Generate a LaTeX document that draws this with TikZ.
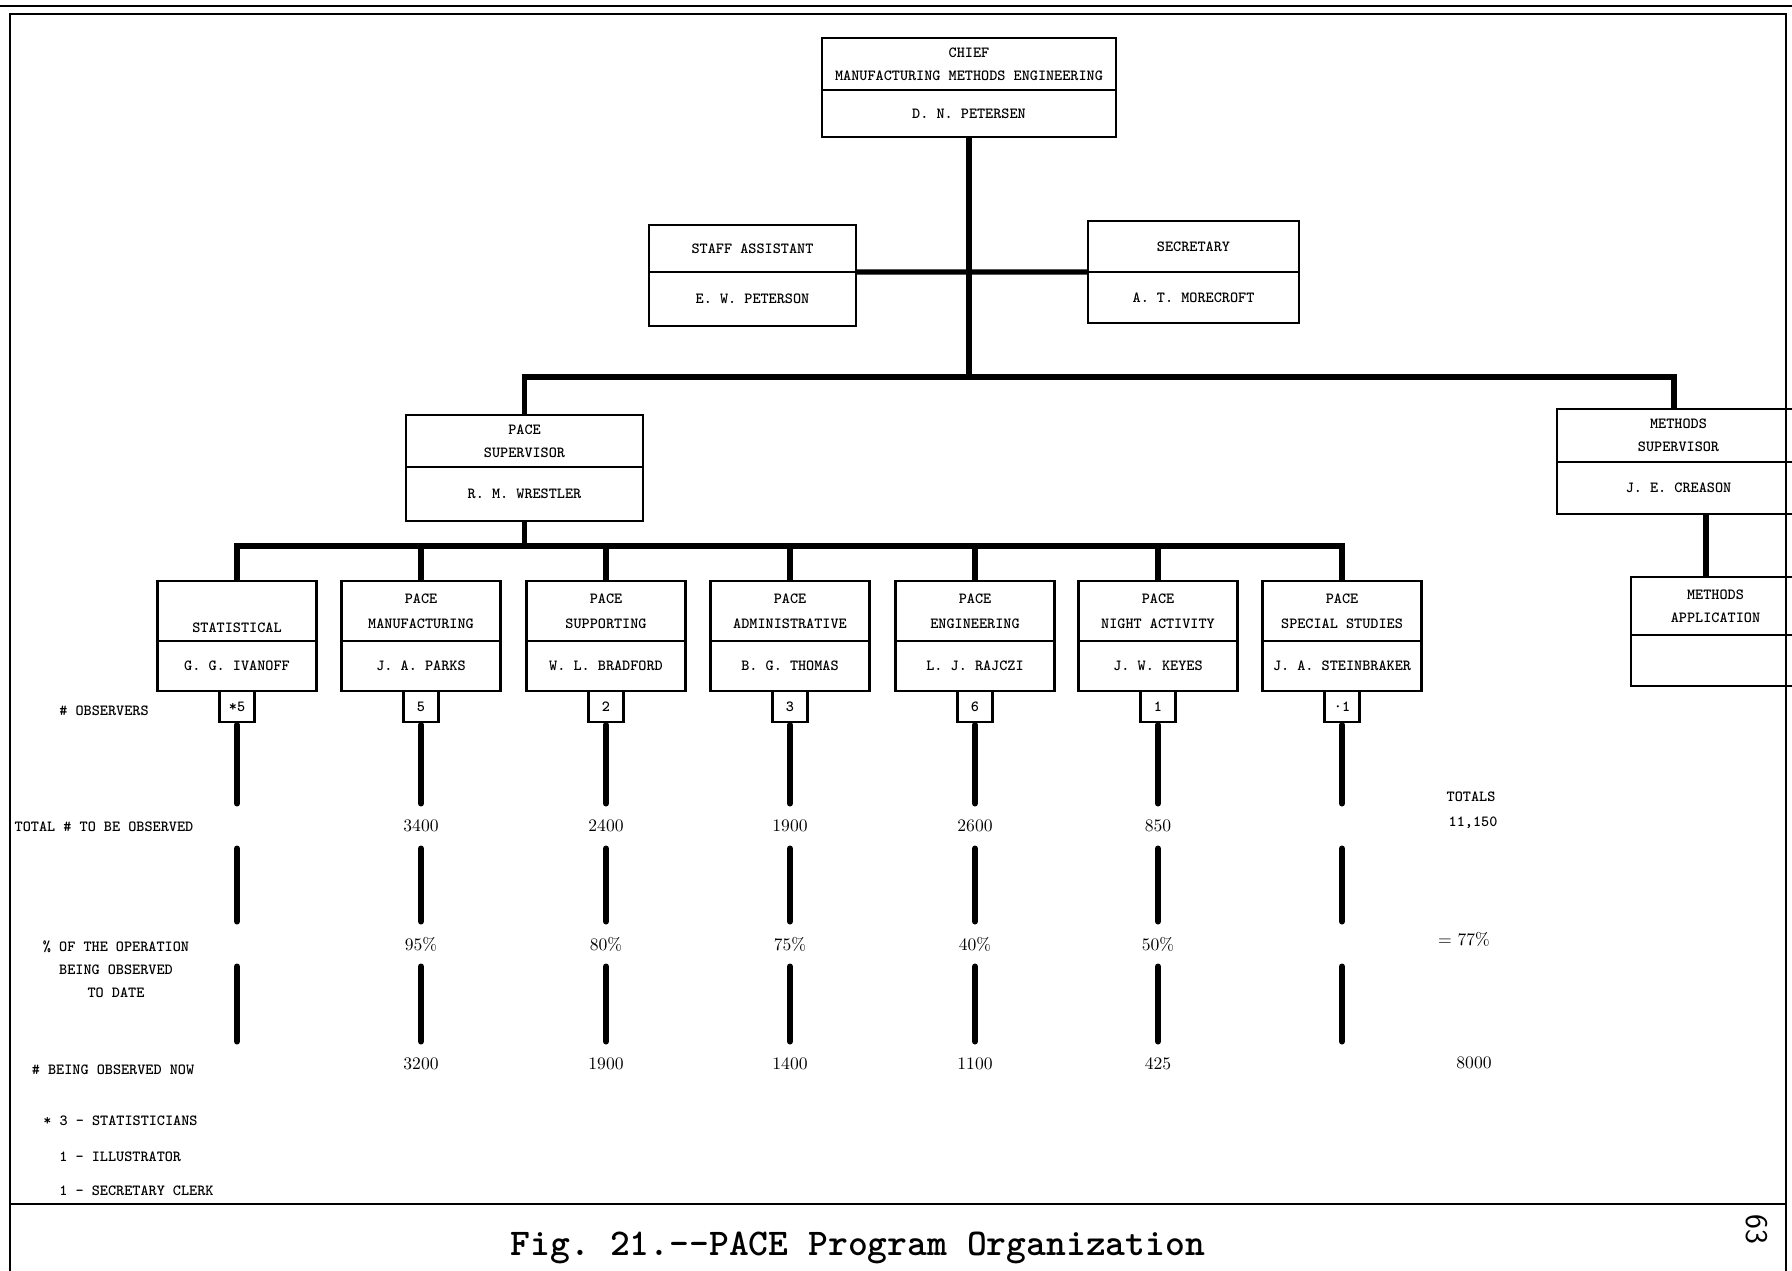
\documentclass[tikz,border=0pt]{standalone}
\usepackage{tikz}
\usetikzlibrary{positioning}

\tikzset{
  box/.style={draw, line width=1.6pt, inner sep=0pt, outer sep=0pt, align=center,
    font=\ttfamily\bfseries\fontsize{8.8}{13}\selectfont},
  kidbox/.style={box, minimum width=3.18cm, font=\ttfamily\bfseries\fontsize{8.8}{14.5}\selectfont},
  cntbox/.style={box, minimum width=0.7cm, minimum height=0.62cm},
  rowlab/.style={align=center, inner sep=0pt, font=\ttfamily\bfseries\fontsize{8.8}{13}\selectfont},
  val/.style={inner sep=0pt, outer sep=0pt, minimum height=0.9cm, font=\rmfamily\fontsize{10}{12}\selectfont},
  link/.style={line width=3pt},
  stem/.style={line width=3.4pt, line cap=round},
  frame/.style={line width=1.1pt}
}

\begin{document}
\begin{tikzpicture}[x=0.02cm, y=-0.02cm]
\useasboundingbox (0,0) rectangle (1792,1271);

% Frame
\draw[frame] (0,6) -- (1792,6);
\draw[frame] (10,1271) -- (10,14) -- (1786,14) -- (1786,1271);
\draw[frame] (10,1204) -- (1786,1204);

% Chief
\node[box, minimum width=5.88cm, minimum height=1.04cm] (chiefT) at (969,64) {CHIEF\\MANUFACTURING METHODS ENGINEERING};
\node[box, minimum width=5.88cm, minimum height=0.94cm, below=0pt of chiefT] (chiefN) {D. N. PETERSEN};

% Staff
\node[box, minimum width=4.14cm, minimum height=0.94cm] (staffT) at (752.5,248.5) {STAFF ASSISTANT};
\node[box, minimum width=4.14cm, minimum height=1.08cm, below=0pt of staffT] (staffN) {E. W. PETERSON};
\node[box, minimum width=4.22cm, minimum height=1.02cm] (secT) at (1193.5,246.5) {SECRETARY};
\node[box, minimum width=4.22cm, minimum height=1.02cm, below=0pt of secT] (secN) {A. T. MORECROFT};

% Supervisors
\node[box, minimum width=4.74cm, minimum height=1.04cm] (paceT) at (524.5,441) {PACE\\SUPERVISOR};
\node[box, minimum width=4.74cm, minimum height=1.08cm, below=0pt of paceT] (paceN) {R. M. WRESTLER};
\node[box, minimum width=4.86cm, minimum height=1.06cm] (msupT) at (1678.5,435.5) {METHODS\\SUPERVISOR};
\node[box, minimum width=4.86cm, minimum height=1.04cm, below=0pt of msupT] (msupN) {J. E. CREASON};
\node[box, minimum width=3.38cm, minimum height=1.16cm] (mappT) at (1715.5,606) {METHODS\\APPLICATION};
\node[box, minimum width=3.38cm, minimum height=1.02cm, below=0pt of mappT] (mappN) {};

% Lines
\coordinate (jA) at (969,377);
\coordinate (jB) at (524.5,546);
\coordinate (jC) at (1706,514);
\coordinate (jD) at (1674,377);
\draw[link] (chiefN.south) -- (jA);
\draw[link] (staffT.south east) -- (secT.south west);
\draw[link] (paceT.north) |- (jA) -- (jD) -- (jD |- msupT.north);
\draw[link] (paceN.south) -- (jB);
\draw[link] (jC) -- (jC |- mappT.north);

% Groups
\foreach \n/\x/\ttl/\who/\obs/\tot/\pct/\now in {
  1/237/{\strut\\STATISTICAL}/{G. G. IVANOFF}/{*5}/{}/{}/{},
  2/421/{PACE\\MANUFACTURING}/{J. A. PARKS}/5/3400/95\%/3200,
  3/606/{PACE\\SUPPORTING}/{W. L. BRADFORD}/2/2400/80\%/1900,
  4/790/{PACE\\ADMINISTRATIVE}/{B. G. THOMAS}/3/1900/75\%/1400,
  5/975/{PACE\\ENGINEERING}/{L. J. RAJCZI}/6/2600/40\%/1100,
  6/1158/{PACE\\NIGHT ACTIVITY}/{J. W. KEYES}/1/850/50\%/425,
  7/1342/{PACE\\SPECIAL STUDIES}/{J. A. STEINBRAKER}/{·1}/{}/{}/{}}
{
  \node[kidbox, minimum height=1.2cm] (kidT\n) at (\x,611) {\ttl};
  \node[kidbox, minimum height=1cm, below=0pt of kidT\n] (kidN\n) {\who};
  \node[cntbox, below=0pt of kidN\n] (obs\n) {\obs};
  \node[val] (tot\n) at (\x,826) {\tot};
  \node[val] (pct\n) at (\x,944) {\pct};
  \node[val] (now\n) at (\x,1064) {\now};
  \draw[stem, shorten <=1.7pt] (obs\n.south) -- (tot\n.north);
  \draw[stem] (tot\n.south) -- (pct\n.north);
  \draw[stem] (pct\n.south) -- (now\n.north);
}
\draw[link] (kidT1.north) |- (jB) -| (kidT7.north);
\foreach \n in {2,...,6}
  \draw[link] (kidT\n.north) -- (kidT\n.north |- jB);

% Row labels
\node[rowlab] (lobs) at (104,711) {\# OBSERVERS};
\node[rowlab] (ltot) at (104,827) {TOTAL \# TO BE OBSERVED};
\node[rowlab] (lpct) at (116,969) {\% OF THE OPERATION\\BEING OBSERVED\\TO DATE};
\node[rowlab] (lnow) at (113,1070) {\# BEING OBSERVED NOW};

% Totals
\node[rowlab] (totals) at (1471,797) {TOTALS};
\node[rowlab] (sumtot) at (1473,823) {11,150};
\node[val] (sumpct) at (1464,939) {= 77\%};
\node[val] (sumnow) at (1474,1063) {8000};

% Notes
\node[rowlab, anchor=west] (fn1) at (43,1121) {* 3 - STATISTICIANS};
\node[rowlab, anchor=west] (fn2) at (59,1157) {1 - ILLUSTRATOR};
\node[rowlab, anchor=west] (fn3) at (59,1191) {1 - SECRETARY CLERK};

% Caption
\node[font=\ttfamily\bfseries\fontsize{21.5}{24}\selectfont] (caption) at (858,1248) {\frenchspacing Fig. 21.-\kern0pt-PACE Program Organization};
\node[rotate=-90, font=\sffamily\fontsize{18}{20}\selectfont] (pageno) at (1757,1229) {63};
\end{tikzpicture}
\end{document}
